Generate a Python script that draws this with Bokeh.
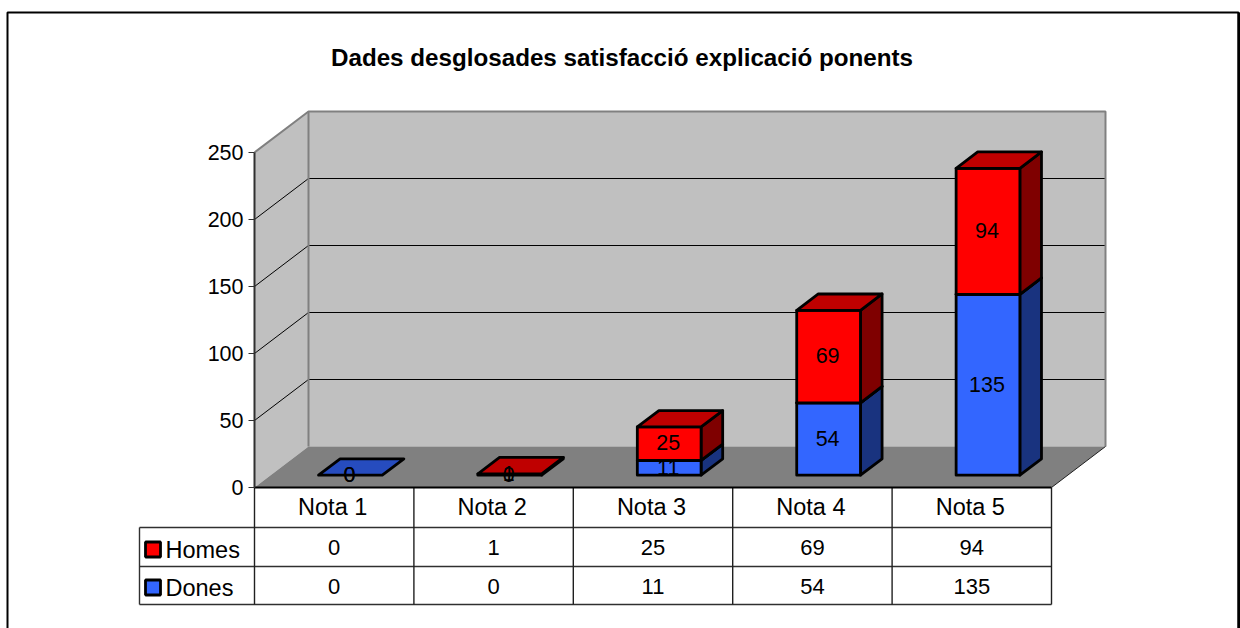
from bokeh.plotting import figure
from bokeh.models import LinearAxis, FixedTicker, Range1d
from bokeh.core.properties import value
from bokeh.embed import file_html
from bokeh.resources import INLINE

title = "Dades desglosades satisfacció explicació ponents"
categories = ["Nota 1", "Nota 2", "Nota 3", "Nota 4", "Nota 5"]
homes = [0, 1, 25, 69, 94]
dones = [0, 0, 11, 54, 135]
y_ticks = [0, 50, 100, 150, 200, 250]
series_names = ["Homes", "Dones"]

W, H = 1240, 628
X0, Y0 = 254.0, 487.0
CAT_PX, UNIT_PX = 159.4, 1.34
FONT = value("Liberation Sans")


def X(px):
    return (px - X0) / CAT_PX


def Y(py):
    return (Y0 - py) / UNIT_PX


DX, DY = 54 / CAT_PX, 41 / UNIT_PX
n = len(categories)
top = y_ticks[-1]

p = figure(width=W, height=H, toolbar_location=None, output_backend="svg",
           x_range=Range1d(X(0), X(W)), y_range=Range1d(Y(H), Y(0)),
           min_border=0, outline_line_color=None, border_fill_color="white",
           background_fill_color="white")
p.styles = {"position": "absolute", "left": "0px", "top": "0px"}
p.xaxis.visible = False
p.yaxis.visible = False
p.grid.visible = False

# chart frame
p.line([X(7), X(7), X(1238), X(1238)], [Y(640), Y(12), Y(12), Y(640)],
       line_color="black", line_width=2)
p.line([X(1238.5)] * 2, [Y(640), Y(12)], line_color="black", line_width=3)

# walls and floor
wall = "#C0C0C0"
edge = "#808080"
p.patch([0, DX, DX, 0], [0, DY, top + DY, top], fill_color=wall, line_color=None)
p.patch([DX, n + DX, n + DX, DX], [DY, DY, top + DY, top + DY], fill_color=wall, line_color=None)
p.patch([0, DX, n + DX, n], [0, DY, DY, 0], fill_color=edge, line_color=None)

# gridlines
for t in y_ticks[1:-1]:
    p.line([0, DX, n + DX], [t, t + DY, t + DY], line_color="black", line_width=1)
p.line([0, DX, n + DX, n + DX], [top, top + DY, top + DY, DY], line_color=edge, line_width=2)
p.line([DX, DX], [DY, top + DY], line_color=edge, line_width=2)
p.line([n, n + DX], [0, DY], line_color="#202020", line_width=1)

# bars
BAR_W = 0.4
D0, D1 = 0.3, 0.7
STYLE = {"Dones": ("#3366FF", "#264CBF", "#19337F"),
         "Homes": ("#FF0000", "#BF0000", "#7F0000")}
bar_line = dict(line_color="black", line_width=2.8, line_join="round")


def segment(i, lo, hi, colors):
    front, up, side = colors
    xl = i + 0.5 - BAR_W / 2 + D0 * DX
    xr = xl + BAR_W
    b = D0 * DY
    ddx, ddy = (D1 - D0) * DX, (D1 - D0) * DY
    if hi > lo:
        p.patch([xr, xr + ddx, xr + ddx, xr], [b + lo, b + lo + ddy, b + hi + ddy, b + hi],
                fill_color=side, **bar_line)
        p.patch([xl, xr, xr, xl], [b + lo, b + lo, b + hi, b + hi], fill_color=front, **bar_line)
    p.patch([xl, xr, xr + ddx, xl + ddx], [b + hi, b + hi, b + hi + ddy, b + hi + ddy],
            fill_color=up, **bar_line)


for i in range(n):
    if dones[i] > 0 or homes[i] == 0:
        segment(i, 0, dones[i], STYLE["Dones"])
    if homes[i] > 0:
        segment(i, dones[i], dones[i] + homes[i], STYLE["Homes"])

# data labels
lab_x, lab_y, lab_t = [], [], []
for i in range(n):
    xc = i + 0.5 + D0 * DX - 1 / CAT_PX
    lab_x += [xc, xc]
    lab_y += [D0 * DY + dones[i] / 2 + 0.5 / UNIT_PX, D0 * DY + dones[i] + homes[i] / 2 + 1 / UNIT_PX]
    lab_t += [str(dones[i]), str(homes[i])]
p.text(lab_x, lab_y, text=lab_t, text_font=FONT, text_font_size="21.5px", text_color="black",
       text_align="center", text_baseline="middle")

# axes
yax = LinearAxis(fixed_location=0, bounds=(0, top), ticker=FixedTicker(ticks=y_ticks),
                 major_tick_in=0, major_tick_out=6, minor_tick_line_color=None,
                 axis_line_color="#303030", axis_line_width=2,
                 major_tick_line_color="#303030", major_label_standoff=5,
                 major_label_text_font="Liberation Sans", major_label_text_font_size="21.5px",
                 major_label_text_color="black")
p.add_layout(yax, "left")
NUDGE = 1.5 / CAT_PX
xax = LinearAxis(fixed_location=0, bounds=(0, n),
                 ticker=FixedTicker(ticks=[i + 0.5 - NUDGE for i in range(n)]),
                 major_label_overrides={i + 0.5 - NUDGE: c for i, c in enumerate(categories)},
                 major_tick_line_color=None, minor_tick_line_color=None,
                 major_tick_in=0, major_tick_out=0, major_label_standoff=6,
                 axis_line_color="black", axis_line_width=2,
                 major_label_text_font="Liberation Sans", major_label_text_font_size="23.5px",
                 major_label_text_color="black")
p.add_layout(xax, "below")

# data table
ROWS = [527, 566, 604]
TABLE_L = 139
for py in ROWS:
    p.line([X(TABLE_L), n], [Y(py), Y(py)], line_color="#303030", line_width=1.4)
p.line([X(TABLE_L)] * 2, [Y(ROWS[0]), Y(ROWS[2])], line_color="#303030", line_width=1.4)
for i in range(n + 1):
    p.line([i, i], [0, Y(ROWS[2])], line_color="#202020", line_width=1.4)

cx = [i + 0.5 for i in range(n)]
p.text(cx, [Y(546.5)] * n, text=[str(v) for v in homes], text_font=FONT, text_font_size="22px",
       text_align="center", text_baseline="middle", text_color="black")
p.text(cx, [Y(585.5)] * n, text=[str(v) for v in dones], text_font=FONT, text_font_size="22px",
       text_align="center", text_baseline="middle", text_color="black")

# legend column
for name, yc in zip(series_names, (549, 587)):
    p.quad(left=[X(145)], right=[X(160)], bottom=[Y(yc + 7.5)], top=[Y(yc - 7.5)],
           fill_color=STYLE[name][0], line_color="black", line_width=2.8)
    p.text([X(165)], [Y(yc)], text=[name], text_font=FONT, text_font_size="23.5px",
           text_align="left", text_baseline="middle", text_color="black")

# title
p.text([X(621.5)], [Y(56.5)], text=[title], text_font=FONT, text_font_size="24.2px",
       text_font_style="bold", text_align="center", text_baseline="middle", text_color="black")

open("out.html", "w").write(file_html(p, INLINE))
